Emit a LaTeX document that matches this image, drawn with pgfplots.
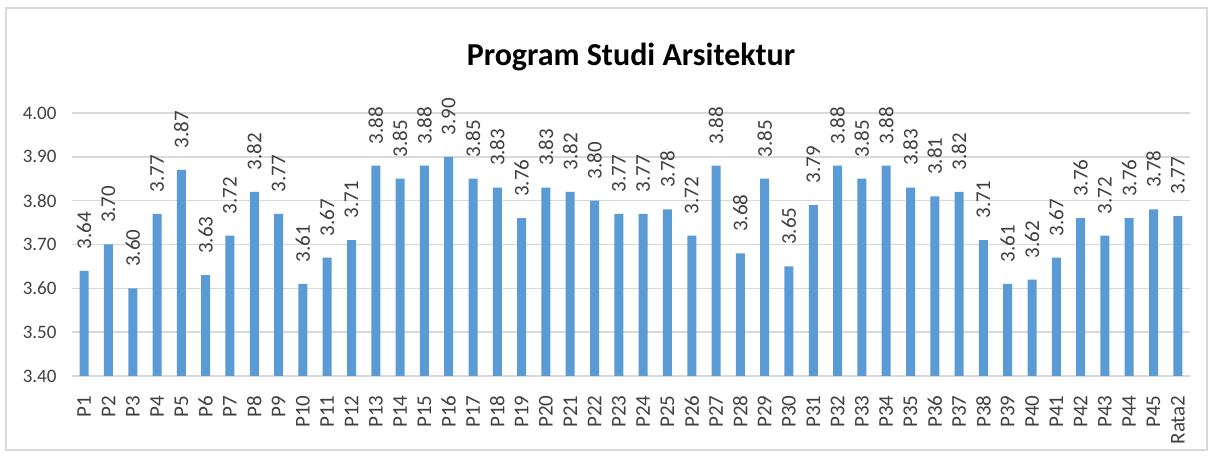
\documentclass[border=0pt]{standalone}
\usepackage{pgfplots}
\pgfplotsset{compat=1.18}
\usepackage{fontspec}
\setmainfont{Carlito}
\definecolor{barblue}{HTML}{5B9BD5}
\definecolor{gridgray}{HTML}{D9D9D9}
\definecolor{txtgray}{HTML}{404040}
\begin{document}
\begin{tikzpicture}[x=1pt,y=1pt]
\fill[white] (-72,-81) rectangle (1141,376);
\draw[gridgray,line width=1.2pt] (-66,-74) rectangle (1135,368);
\begin{axis}[
  at={(0,0)}, anchor=south west,
  scale only axis, width=1118pt, height=263pt,
  xmin=-0.5, xmax=45.5, ymin=3.4, ymax=4.0,
  ytick={3.4,3.5,...,4.0},
  /pgf/number format/fixed,
  /pgf/number format/fixed zerofill,
  /pgf/number format/precision=2,
  /pgf/number format/assume math mode=true,
  yticklabel style={font=\fontsize{19}{19}\selectfont, text=txtgray, xshift=-12pt},
  xtick=data,
  xticklabels={P1,P2,P3,P4,P5,P6,P7,P8,P9,P10,P11,P12,P13,P14,P15,P16,P17,P18,P19,P20,P21,P22,P23,P24,P25,P26,P27,P28,P29,P30,P31,P32,P33,P34,P35,P36,P37,P38,P39,P40,P41,P42,P43,P44,P45,Rata2},
  xticklabel style={rotate=90, anchor=east, font=\fontsize{21}{21}\selectfont, text=txtgray, xshift=-16pt},
  major tick length=0pt,
  axis line style={draw=none},
  ymajorgrids, grid style={gridgray, line width=1.5pt},
  title={\textbf{Program Studi Arsitektur}},
  title style={font=\fontsize{32}{32}\selectfont, text=black, at={(0.5,1)}, yshift=33pt, anchor=south},
  clip=false,
]
\addplot[ybar, bar width=9pt, fill=barblue, draw=none,
  nodes near coords,
  nodes near coords style={rotate=90, anchor=west, font=\fontsize{21}{21}\selectfont, text=txtgray, xshift=18pt},
  point meta=explicit symbolic]
coordinates {
(0,3.64) [3.64]
(1,3.70) [3.70]
(2,3.60) [3.60]
(3,3.77) [3.77]
(4,3.87) [3.87]
(5,3.63) [3.63]
(6,3.72) [3.72]
(7,3.82) [3.82]
(8,3.77) [3.77]
(9,3.61) [3.61]
(10,3.67) [3.67]
(11,3.71) [3.71]
(12,3.88) [3.88]
(13,3.85) [3.85]
(14,3.88) [3.88]
(15,3.90) [3.90]
(16,3.85) [3.85]
(17,3.83) [3.83]
(18,3.76) [3.76]
(19,3.83) [3.83]
(20,3.82) [3.82]
(21,3.80) [3.80]
(22,3.77) [3.77]
(23,3.77) [3.77]
(24,3.78) [3.78]
(25,3.72) [3.72]
(26,3.88) [3.88]
(27,3.68) [3.68]
(28,3.85) [3.85]
(29,3.65) [3.65]
(30,3.79) [3.79]
(31,3.88) [3.88]
(32,3.85) [3.85]
(33,3.88) [3.88]
(34,3.83) [3.83]
(35,3.81) [3.81]
(36,3.82) [3.82]
(37,3.71) [3.71]
(38,3.61) [3.61]
(39,3.62) [3.62]
(40,3.67) [3.67]
(41,3.76) [3.76]
(42,3.72) [3.72]
(43,3.76) [3.76]
(44,3.78) [3.78]
(45,3.765) [3.77]
};
\end{axis}
\end{tikzpicture}
\end{document}
